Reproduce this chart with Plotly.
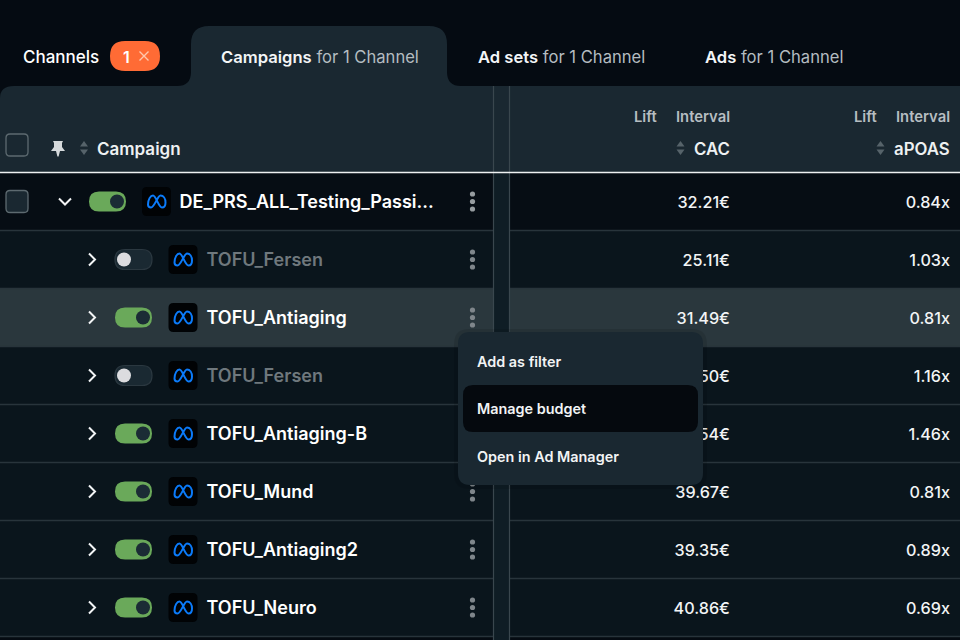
import plotly.graph_objects as go

# ---- data ----
row_names = ["DE_PRS_ALL_Testing_Passi...", "TOFU_Fersen", "TOFU_Antiaging", "TOFU_Fersen",
             "TOFU_Antiaging-B", "TOFU_Mundi", "TOFU_Antiaging2", "TOFU_Neuro"]
row_active = [True, False, True, False, True, True, True, True]
cac_values = ["32.21€", "25.11€", "31.49€", "38.50€", "41.54€", "39.67€", "39.35€", "40.86€"]
apoas_values = ["0.84x", "1.03x", "0.81x", "1.16x", "1.46x", "0.81x", "0.89x", "0.69x"]
menu_items = ["Add as filter", "Manage budget", "Open in Ad Manager"]
col_labels = ["CAC", "aPOAS"]

FONT = "Inter"
BG = "#050b12"
PANEL = "#1a2831"
ROW0 = "#060d14"
ROW = "#0a151c"
ROW_HI = "#2a373d"
LINE = "#28343b"
STRIP = "#0f1d25"

shapes = []


def rr(x0, y0, x1, y1, r):
    return (f"M{x0+r},{y0} L{x1-r},{y0} Q{x1},{y0} {x1},{y0+r} L{x1},{y1-r} Q{x1},{y1} {x1-r},{y1} "
            f"L{x0+r},{y1} Q{x0},{y1} {x0},{y1-r} L{x0},{y0+r} Q{x0},{y0} {x0+r},{y0} Z")


def path(d, fill=None, line=None, width=0, layer="below", opacity=1):
    s = dict(type="path", path=d, layer=layer, opacity=opacity, xref="x", yref="y")
    s["fillcolor"] = fill if fill else "rgba(0,0,0,0)"
    s["line"] = dict(color=line, width=width) if line else dict(width=0)
    shapes.append(s)


def rect(x0, y0, x1, y1, fill, layer="below"):
    shapes.append(dict(type="rect", x0=x0, y0=y0, x1=x1, y1=y1, fillcolor=fill,
                       line=dict(width=0), layer=layer))


def hline(x0, x1, y, color=LINE, width=1.3, layer="below"):
    shapes.append(dict(type="line", x0=x0, x1=x1, y0=y, y1=y, line=dict(color=color, width=width), layer=layer))


def vline(x, y0, y1, color="#3a474e", width=1.2):
    shapes.append(dict(type="line", x0=x, x1=x, y0=y0, y1=y1, line=dict(color=color, width=width), layer="below"))


def circle(cx, cy, r, fill, layer="below"):
    shapes.append(dict(type="circle", x0=cx-r, x1=cx+r, y0=cy-r, y1=cy+r, fillcolor=fill,
                       line=dict(width=0), layer=layer))


def meta_logo(cx, cy):
    path(rr(cx-14.5, cy-14.5, cx+14.5, cy+14.5, 5), fill="#010305")
    d = (f"M{cx-8.5},{cy+3} C{cx-8.5},{cy-2} {cx-6},{cy-6} {cx-3.5},{cy-6} "
         f"C{cx-0.5},{cy-6} {cx+2},{cy+6} {cx+5.5},{cy+6} "
         f"C{cx+8},{cy+6} {cx+9},{cy+3.5} {cx+9},{cy+1} "
         f"C{cx+9},{cy-3} {cx+7},{cy-6} {cx+4},{cy-6} "
         f"C{cx+1},{cy-6} {cx-2},{cy+6} {cx-5.5},{cy+6} "
         f"C{cx-7.5},{cy+6} {cx-8.5},{cy+4.5} {cx-8.5},{cy+3}")
    path(d, line="#0b7bfa", width=2)


def toggle(x0, cy, on):
    if on:
        path(rr(x0, cy-10, x0+37, cy+10, 10), fill="#6aa95a")
        circle(x0+28, cy, 7, "#1b2c35")
    else:
        path(rr(x0, cy-10, x0+37, cy+10, 10), fill="#1a2932", line="#2b3840", width=1.2)
        circle(x0+9, cy, 7, "#dcdcdf")


def chevron(cx, cy, down=False):
    d = (f"M{cx-6},{cy-3} L{cx},{cy+3} L{cx+6},{cy-3}" if down else
         f"M{cx-3},{cy-6} L{cx+3},{cy} L{cx-3},{cy+6}")
    path(d, line="#f2f4f5", width=2)


def checkbox(cx, cy):
    path(rr(cx-11, cy-11, cx+11, cy+11, 4), line="#5d6a70", width=1.3, fill="#1a2831")


def sorter(cx, cy):
    path(f"M{cx-4},{cy-1.5} L{cx},{cy-7} L{cx+4},{cy-1.5} Z", fill="#56636a")
    path(f"M{cx-4},{cy+1.5} L{cx},{cy+7} L{cx+4},{cy+1.5} Z", fill="#56636a")


# ---- background, tabs, panel ----
rect(0, 0, 960, 640, BG)
path("M0,98 Q0,86 14,86 L960,86 L960,172 L0,172 Z", fill=PANEL)
path("M177,86 Q191,86 191,72 L191,44 Q191,26 209,26 L429,26 Q447,26 447,44 L447,72 Q447,86 461,86 Z", fill=PANEL)
path(rr(110, 41, 160, 71, 15), fill="#ff6b35")
path("M139.5,51.5 L148.5,60.5 M148.5,51.5 L139.5,60.5", line="#ffc7ad", width=1.4)

# ---- rows ----
ROW_TOP = 173
ROW_H = 58
for i, (name, on) in enumerate(zip(row_names, row_active)):
    y0 = ROW_TOP + i * ROW_H
    cy = y0 + 28.5
    rect(0, y0, 960, y0 + ROW_H, ROW0 if i == 0 else (ROW_HI if i == 2 else ROW))
    if i == 0:
        checkbox(17, cy)
        chevron(65, cy, down=True)
        toggle(89, cy, on)
        meta_logo(156.5, cy)
    else:
        chevron(92, cy)
        toggle(115, cy, on)
        meta_logo(183, cy)
    for dy in (-7.5, 0, 7.5):
        circle(472.5, cy + dy, 2.6, "#7f868b" if i != 0 else "#969ca0")

# vertical strip and row separators
rect(494, 173, 509, 640, STRIP)
for i in range(len(row_names)):
    y = ROW_TOP + (i + 1) * ROW_H - 0.5
    hline(0, 493, y)
    hline(509, 960, y)
vline(493.5, 86, 640)
vline(509.5, 86, 640)
hline(0, 960, 172.5, color="#eef1f2", width=1.6)

# header icons
checkbox(17, 145)
path("M53,141 L63,141 L62,143 L62,147 L65,151 L60,151 L58.6,156.5 L57.4,156.5 L56,151 L51,151 L54,147 L54,143 Z",
     fill="#d6dadc")
sorter(84, 148)
sorter(680.5, 148)
sorter(880.5, 148)

# cover the clipped end of the truncated name
rect(313, 480, 345, 504, ROW, layer="above")

# ---- popup menu ----
path(rr(454, 329, 707, 489, 15), fill="#000000", layer="above", opacity=0.1)
path(rr(458, 332, 703, 485, 12), fill=PANEL, layer="above")
path(rr(463, 385, 698, 432, 10), fill="#05090e", layer="above")

# ---- text ----
row_centers = [ROW_TOP + i * ROW_H + 30.5 for i in range(len(row_names))]
traces = []
name_colors = ["#6f787d" if not a else "#ffffff" for a in row_active]
name_x = [179.5 if i == 0 else 206.5 for i in range(len(row_names))]

traces.append(go.Scatter(x=name_x, y=row_centers, text=row_names, mode="text",
                         textposition="middle right",
                         textfont=dict(family=FONT, size=18, color=name_colors, weight=600)))
traces.append(go.Scatter(x=[730] * len(cac_values), y=row_centers, text=cac_values, mode="text",
                         textposition="middle left",
                         textfont=dict(family=FONT, size=16.2, color="#f2f4f5", weight=500)))
traces.append(go.Scatter(x=[950] * len(apoas_values), y=row_centers, text=apoas_values, mode="text",
                         textposition="middle left",
                         textfont=dict(family=FONT, size=16.2, color="#f2f4f5", weight=500)))

fig = go.Figure(traces)


def note(x, y, text, size=15, color="#ffffff", anchor="left", weight=400):
    shift = {"left": -2, "right": 1.5, "center": 0}[anchor]
    fig.add_annotation(x=x, y=y, text=text, xref="x", yref="y", showarrow=False, xanchor=anchor, yanchor="middle",
                       font=dict(family=FONT, size=size, color=color, weight=weight), xshift=shift)


TAB_MUTED = "#b4bcc0"
note(23, 56.5, "Channels", 17, "#ffffff", weight=500)
note(126, 56.5, "1", 16, "#ffffff", anchor="center", weight=600)
for x, bold in [(221, "Campaigns"), (478, "Ad sets"), (705, "Ads")]:
    note(x, 56.5, f"<span style='font-weight:600'>{bold}</span><span style='color:{TAB_MUTED}'> for 1 Channel</span>",
         16.6, "#f4f6f7")

note(97, 148.5, "Campaign", 17, "#eef1f2", weight=600)
for right, label in zip([730, 950], col_labels):
    note(right, 148.5, label, 16.8, "#eef1f2", anchor="right", weight=600)
    note(right, 117, "Interval", 14.8, "#b6bdc1", anchor="right", weight=600)
    note(right - 72.5, 117, "Lift", 14.8, "#b6bdc1", anchor="right", weight=600)

for y, item in zip([361, 408.5, 456.5], menu_items):
    note(477, y, item, 14.4, "#f2f4f5", weight=600)

fig.update_layout(
    width=960, height=640, margin=dict(l=0, r=0, t=0, b=0), showlegend=False,
    paper_bgcolor=BG, plot_bgcolor=BG, shapes=shapes, hovermode=False,
    xaxis=dict(range=[0, 960], visible=False, fixedrange=True),
    yaxis=dict(range=[640, 0], visible=False, fixedrange=True),
)
fig.write_html("out.html", config={"displayModeBar": False},
               post_script="document.body.style.margin='0';")
